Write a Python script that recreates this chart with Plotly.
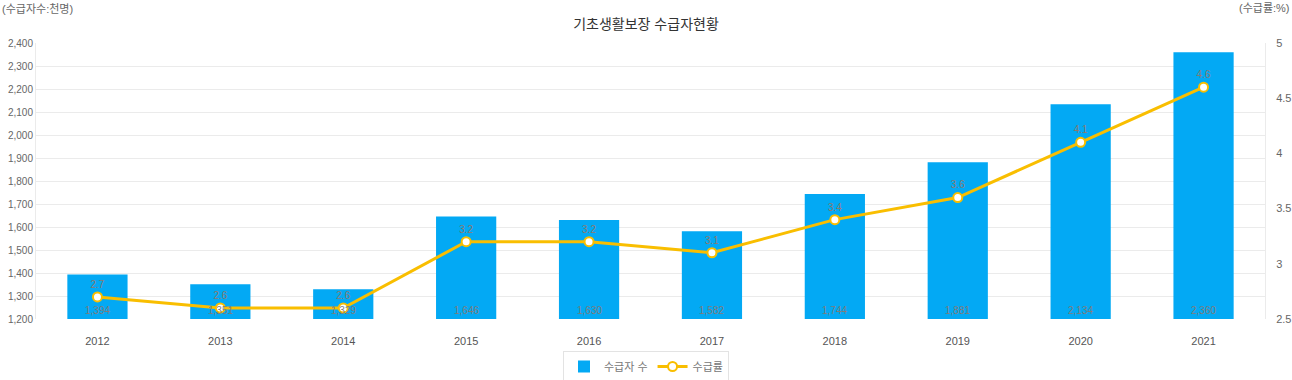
import plotly.graph_objects as go

years = ["2012", "2013", "2014", "2015", "2016", "2017", "2018", "2019", "2020", "2021"]
recipients = [1394, 1351, 1329, 1646, 1630, 1582, 1744, 1881, 2134, 2360]
rate = [2.7, 2.6, 2.6, 3.2, 3.2, 3.1, 3.4, 3.6, 4.1, 4.6]
left_ticks = list(range(1200, 2401, 100))
right_ticks = [2.5, 3, 3.5, 4, 4.5, 5]
left_range = [1200, 2400]
right_range = [2.5, 5]

FONT = "Liberation Sans, Arial, Noto Sans CJK KR, sans-serif"
W, H = 1292, 380
ML, MR, MT, MB = 36, 27, 43, 61

fig = go.Figure()
fig.add_trace(go.Bar(
    x=years, y=recipients, name="수급자 수",
    marker=dict(color="#03A9F4", line=dict(width=0)),
    yaxis="y",
))
fig.add_trace(go.Scatter(
    x=years, y=rate, name="수급률", mode="lines+markers+text",
    line=dict(color="#F9BE00", width=3),
    marker=dict(size=9, color="white", line=dict(color="#F9BE00", width=2)),
    text=[str(v) for v in rate], textposition="top center",
    textfont=dict(size=10, color="#8a7a70", family=FONT),
    yaxis="y2",
))

annotations = [
    dict(text="(수급자수:천명)", x=0, y=1, xref="paper", yref="paper", showarrow=False,
         xanchor="left", yanchor="top", font=dict(size=11, color="#666", family=FONT)),
    dict(text="(수급률:%)", x=1, y=1, xref="paper", yref="paper", showarrow=False,
         xanchor="right", yanchor="top", font=dict(size=11, color="#666", family=FONT)),
]
annotations[0].update(x=-ML / (W - ML - MR), y=1 + MT / (H - MT - MB))
annotations[1].update(x=1 + MR / (W - ML - MR), y=1 + MT / (H - MT - MB))
for i, v in enumerate(recipients):
    annotations.append(dict(text=f"{v:,}", x=i, y=left_range[0], xref="x", yref="y",
                            showarrow=False, yanchor="bottom", yshift=1,
                            font=dict(size=10, color="#7d7d7d", family=FONT)))

fig.update_layout(
    width=W, height=H,
    margin=dict(l=ML, r=MR, t=MT, b=MB, autoexpand=False),
    paper_bgcolor="white", plot_bgcolor="white",
    font=dict(family=FONT, size=10, color="#666"),
    bargap=0.51,
    showlegend=True,
    legend=dict(orientation="h", x=0.5, xanchor="center", xref="container",
                y=1 - 351 / H, yanchor="top", yref="container",
                bordercolor="#e3e3e3", borderwidth=1,
                font=dict(size=11, color="#777", family=FONT),
                itemwidth=30, tracegroupgap=0),
    title=dict(text="기초생활보장 수급자현황", x=0.5, xanchor="center",
               y=1 - 24 / H, yanchor="middle", yref="container",
               font=dict(size=14, color="#333", family=FONT)),
    xaxis=dict(type="category", range=[-0.5, len(years) - 0.5], showgrid=False, showline=False,
               ticks="outside", ticklen=12, tickcolor="rgba(0,0,0,0)",
               tickfont=dict(size=11, color="#555"), automargin=False),
    yaxis=dict(range=left_range, tickvals=left_ticks, tickformat=",",
               gridcolor="#ebebeb", showline=True, linecolor="#ebebeb",
               zeroline=False, tickfont=dict(size=10, color="#666"), automargin=False),
    yaxis2=dict(range=right_range, tickvals=right_ticks, overlaying="y", side="right",
                showgrid=False, showline=True, linecolor="#ebebeb", zeroline=False,
                ticks="outside", ticklen=8, tickcolor="rgba(0,0,0,0)",
                tickfont=dict(size=11, color="#666"), automargin=False),
    annotations=annotations,
)

fig.write_html("out.html", config={"displayModeBar": False},
               post_script="document.body.style.margin='0';")
